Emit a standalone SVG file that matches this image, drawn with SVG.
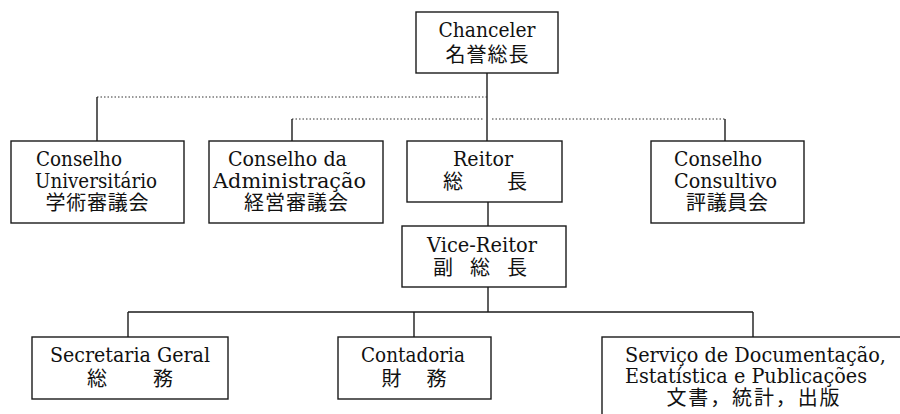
<svg xmlns="http://www.w3.org/2000/svg" width="900" height="414" viewBox="0 0 900 414">
<style>
.box{fill:none;stroke:#1a1a1a;stroke-width:1.4}
.ln{stroke:#1a1a1a;stroke-width:1.4;fill:none}
.dot{stroke:#333;stroke-width:1;stroke-dasharray:1.5 2;fill:none}
.en{font-family:"DejaVu Serif","Liberation Serif",serif;font-size:20px;fill:#111}
.jp{font-family:"Noto Sans CJK JP",sans-serif;font-size:20px;fill:#111}
.m{text-anchor:middle}
</style>
<rect width="900" height="414" fill="#fff"/>
<g id="connectors">
<line class="ln" x1="487" y1="73" x2="487" y2="141"/>
<line class="dot" x1="97" y1="97" x2="487" y2="97"/>
<line class="ln" x1="97" y1="97" x2="97" y2="141"/>
<line class="dot" x1="292" y1="119" x2="483" y2="119"/>
<line class="dot" x1="492" y1="119" x2="725" y2="119"/>
<line class="ln" x1="292" y1="119" x2="292" y2="141"/>
<line class="ln" x1="725" y1="119" x2="725" y2="141"/>
<line class="ln" x1="488" y1="202" x2="488" y2="226"/>
<line class="ln" x1="488" y1="287" x2="488" y2="312"/>
<line class="ln" x1="128" y1="312" x2="753" y2="312"/>
<line class="ln" x1="128" y1="312" x2="128" y2="337"/>
<line class="ln" x1="414" y1="312" x2="414" y2="337"/>
<line class="ln" x1="753" y1="312" x2="753" y2="337"/>
</g>
<g id="chanceler">
<rect class="box" x="416" y="12" width="142" height="61"/>
<text class="en m" x="487" y="37" textLength="97" lengthAdjust="spacingAndGlyphs">Chanceler</text>
<text class="jp m" x="487" y="62" textLength="83">名誉総長</text>
</g>
<g id="conselho-universitario">
<rect class="box" x="11" y="141" width="173" height="82"/>
<text class="en" x="36" y="166" textLength="86" lengthAdjust="spacingAndGlyphs">Conselho</text>
<text class="en" x="35" y="188" textLength="122" lengthAdjust="spacingAndGlyphs">Universitário</text>
<text class="jp m" x="97" y="210" textLength="103">学術審議会</text>
</g>
<g id="conselho-administracao">
<rect class="box" x="209" y="141" width="174" height="82"/>
<text class="en" x="228" y="166" textLength="119" lengthAdjust="spacingAndGlyphs">Conselho da</text>
<text class="en" x="213" y="188" textLength="153" lengthAdjust="spacingAndGlyphs">Administração</text>
<text class="jp m" x="296" y="210" textLength="104">経営審議会</text>
</g>
<g id="reitor">
<rect class="box" x="407" y="141" width="155" height="61"/>
<text class="en m" x="483" y="166" textLength="60" lengthAdjust="spacingAndGlyphs">Reitor</text>
<text class="jp m" x="485" y="189" textLength="84">総　　長</text>
</g>
<g id="conselho-consultivo">
<rect class="box" x="651" y="141" width="153" height="82"/>
<text class="en" x="674" y="166" textLength="88" lengthAdjust="spacingAndGlyphs">Conselho</text>
<text class="en" x="674" y="188" textLength="103" lengthAdjust="spacingAndGlyphs">Consultivo</text>
<text class="jp m" x="727" y="210" textLength="82">評議員会</text>
</g>
<g id="vice-reitor">
<rect class="box" x="402" y="226" width="164" height="61"/>
<text class="en m" x="482" y="252" textLength="110" lengthAdjust="spacingAndGlyphs">Vice-Reitor</text>
<text class="jp m" x="480" y="275" textLength="94">副 総 長</text>
</g>
<g id="secretaria-geral">
<rect class="box" x="32" y="337" width="196" height="62"/>
<text class="en m" x="130" y="362" textLength="160" lengthAdjust="spacingAndGlyphs">Secretaria Geral</text>
<text class="jp m" x="130" y="386" textLength="86">総　　務</text>
</g>
<g id="contadoria">
<rect class="box" x="338" y="337" width="153" height="62"/>
<text class="en m" x="413" y="362" textLength="104" lengthAdjust="spacingAndGlyphs">Contadoria</text>
<text class="jp m" x="414" y="386" textLength="65">財　務</text>
</g>
<g id="servico">
<rect class="box" x="602" y="337" width="320" height="100"/>
<text class="en" x="625" y="362" textLength="261" lengthAdjust="spacingAndGlyphs">Serviço de Documentação,</text>
<text class="en" x="625" y="383" textLength="242" lengthAdjust="spacingAndGlyphs">Estatística e Publicações</text>
<text class="jp m" x="753" y="405" textLength="173">文書，統計，出版</text>
</g>
</svg>
